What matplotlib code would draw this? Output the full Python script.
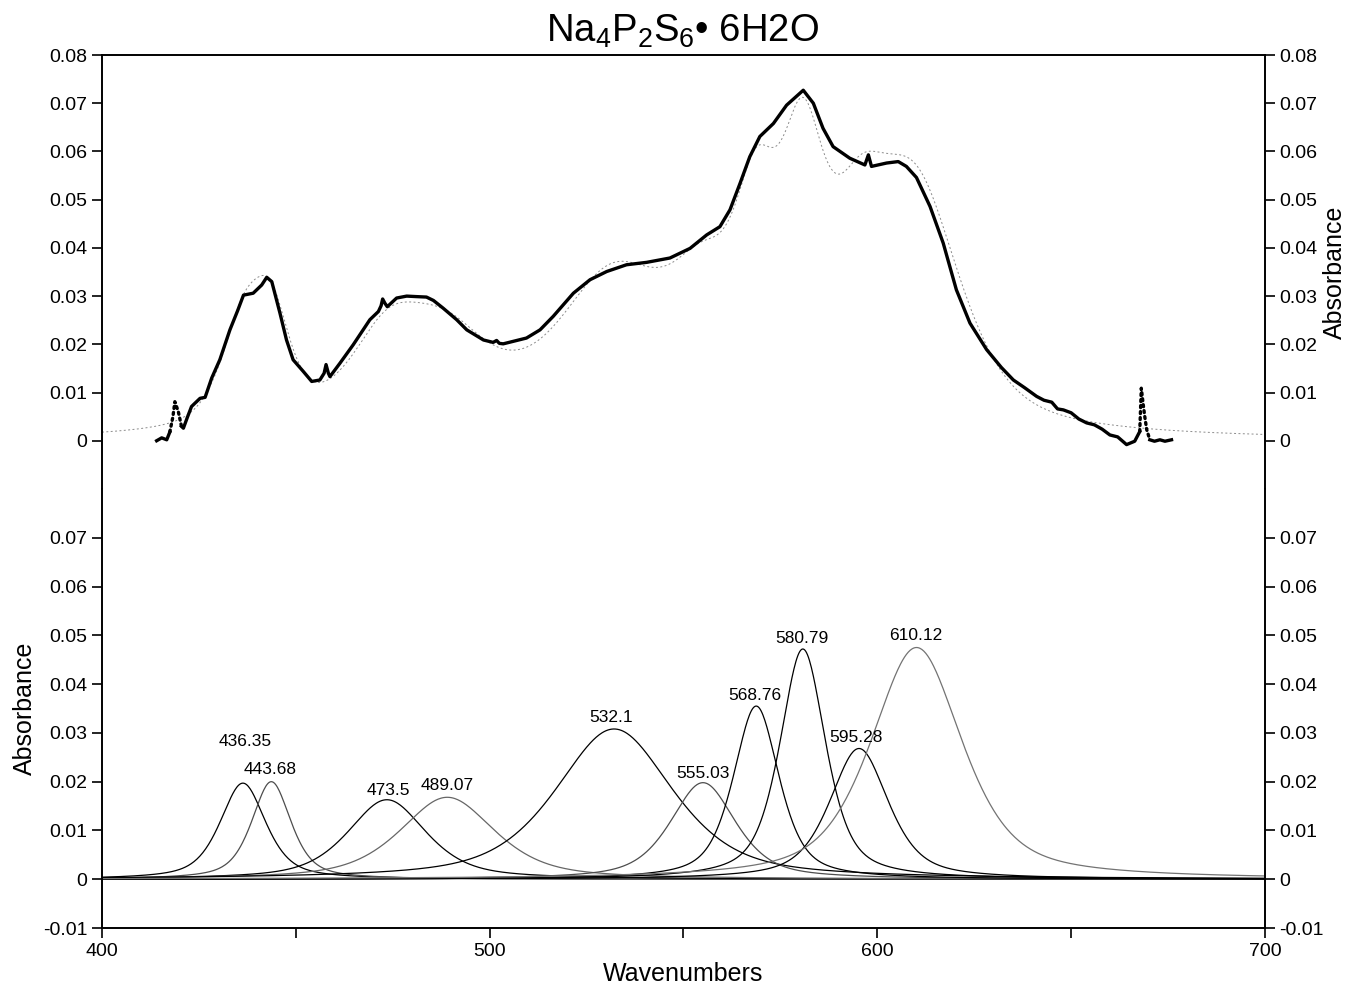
import numpy as np
import matplotlib
matplotlib.use("Agg")
import matplotlib.pyplot as plt
from matplotlib.ticker import FuncFormatter, MultipleLocator

plt.rcParams['font.family'] = ['Liberation Sans', 'DejaVu Sans']
plt.rcParams['mathtext.fontset'] = 'custom'
plt.rcParams['mathtext.rm'] = 'Liberation Sans'
plt.rcParams['mathtext.it'] = 'Liberation Sans'
plt.rcParams['axes.unicode_minus'] = False

meas_x = [414.1, 415.4, 416.7, 417.5, 418.3, 418.8, 419.7, 420.5, 421.0, 422.0,
          423.1, 424.0, 425.3, 426.6, 428.3, 430.4, 433.0, 435.0, 436.5, 439.0,
          441.2, 442.5, 443.8, 445.9, 447.6, 449.3, 451.9, 454.1, 456.2, 457.3,
          457.8, 458.4, 458.8, 461.4, 464.8, 469.1, 471.3, 472.0, 472.4, 473.0,
          473.6, 476.0, 478.6, 481.0, 483.7, 485.5, 488.0, 491.5, 494.1, 498.4,
          500.9, 501.8, 502.5, 503.5, 507.0, 509.5, 513.0, 516.4, 521.6, 525.9,
          530.2, 535.3, 540.5, 546.5, 551.7, 556.0, 559.4, 562.0, 564.6, 567.1,
          569.7, 573.2, 576.6, 580.9, 583.5, 586.0, 588.6, 592.9, 596.8, 597.7,
          598.5, 602.4, 605.4, 607.5, 610.1, 613.6, 617.0, 620.4, 623.9, 628.2,
          632.0, 635.1, 638.0, 641.1, 643.0, 645.0, 646.5, 648.0, 650.0, 652.0,
          654.0, 656.0, 658.0, 660.0, 662.0, 664.3, 666.4, 667.7, 668.1, 668.6,
          669.0, 669.5, 670.3, 671.5, 672.9, 674.2, 675.9]
meas_y = [0.0000, 0.0006, 0.0002, 0.0018, 0.0050, 0.0081, 0.0060, 0.0030, 0.0026, 0.0048,
          0.0071, 0.0078, 0.0088, 0.0090, 0.0130, 0.0168, 0.0230, 0.0270, 0.0302, 0.0306,
          0.0323, 0.0339, 0.0330, 0.0265, 0.0209, 0.0168, 0.0144, 0.0123, 0.0126, 0.0140,
          0.0158, 0.0140, 0.0133, 0.0161, 0.0199, 0.0251, 0.0268, 0.0280, 0.0294, 0.0285,
          0.0278, 0.0296, 0.0300, 0.0299, 0.0298, 0.0291, 0.0275, 0.0251, 0.0230, 0.0209,
          0.0204, 0.0208, 0.0202, 0.0201, 0.0208, 0.0213, 0.0230, 0.0258, 0.0306, 0.0334,
          0.0351, 0.0365, 0.0370, 0.0379, 0.0399, 0.0427, 0.0444, 0.0479, 0.0534, 0.0589,
          0.0631, 0.0658, 0.0696, 0.0727, 0.0700, 0.0648, 0.0610, 0.0586, 0.0572, 0.0593,
          0.0569, 0.0576, 0.0579, 0.0569, 0.0546, 0.0486, 0.0410, 0.0313, 0.0244, 0.0189,
          0.0152, 0.0126, 0.0110, 0.0092, 0.0084, 0.0080, 0.0066, 0.0064, 0.0058, 0.0045,
          0.0037, 0.0033, 0.0024, 0.0012, 0.0008, -0.0008, -0.0001, 0.0019, 0.0109, 0.0075,
          0.0050, 0.0023, 0.0002, -0.0001, 0.0002, -0.0001, 0.0002]

# fitted components
peak_pos = [436.35, 443.68, 473.5, 489.07, 532.1, 555.03, 568.76, 580.79, 595.28, 610.12]
peak_height = [0.0197, 0.0200, 0.0163, 0.0168, 0.0308, 0.0198, 0.0355, 0.0472, 0.0268, 0.0475]
peak_fwhm = [14, 12, 24, 29, 36, 20, 14, 14, 18, 28]
label_x = [436.9, 443.3, 474.0, 489.0, 531.3, 555.0, 568.4, 580.6, 594.5, 610.0]
label_y = [0.0283, 0.0225, 0.0182, 0.0193, 0.0332, 0.0217, 0.0377, 0.0494, 0.0291, 0.0499]
eta = 0.6


def pvoigt(x, c, h, w):
    u = (x - c) / w
    return h * (eta / (1 + 4 * u ** 2) + (1 - eta) * np.exp(-4 * np.log(2) * u ** 2))


xs = np.linspace(400, 700, 1201)
comps = [pvoigt(xs, c, h, w) for c, h, w in zip(peak_pos, peak_height, peak_fwhm)]
fit = np.sum(comps, axis=0)

fig = plt.figure(figsize=(13.49, 9.88), dpi=100)
ax1 = fig.add_axes([0.0756, 0.5051, 0.8621, 0.4392])
ax2 = fig.add_axes([0.0756, 0.0607, 0.8621, 0.4444])

fmt = FuncFormatter(lambda v, p: '0' if abs(v) < 1e-9 else ('%.2f' % v))

# top panel
mx = np.array(meas_x)
my = np.array(meas_y)
dot = ((mx > 417.2) & (mx < 420.8)) | ((mx > 667.5) & (mx < 670.5))
solid_y = np.where(((mx > 417.6) & (mx < 420.4)) | ((mx > 667.8) & (mx < 670.2)), np.nan, my)
dot_y = np.where(dot, my, np.nan)
ax1.plot(xs, fit, color='0.55', lw=0.7, ls=(0, (2, 2.5)))
ax1.plot(mx, solid_y, color='black', lw=2.4)
ax1.plot(mx, dot_y, color='black', lw=2.4, ls=(0, (0.6, 1.2)), dash_capstyle='round')
ax1.set_xlim(400, 700)
ax1.set_ylim(-0.01, 0.08)
ax1.set_yticks(np.arange(0, 0.081, 0.01))
ax1.yaxis.set_major_formatter(fmt)
ax1.spines['bottom'].set_visible(False)
ax1.tick_params(axis='x', bottom=False, labelbottom=False)
ax1.tick_params(axis='y', direction='out', length=7, width=1.2, labelsize=14,
                left=True, right=True, labelleft=True, labelright=True)
ax1.yaxis.set_label_position('right')
ax1.set_ylabel('Absorbance', fontsize=18, labelpad=4)

# bottom panel
line_colors = ['black', '0.3', 'black', '0.4', 'black', '0.3', 'black', 'black', 'black', '0.45']
for comp, col in zip(comps, line_colors):
    ax2.plot(xs, comp, color=col, lw=0.9)
for lx, ly, c in zip(label_x, label_y, peak_pos):
    ax2.text(lx, ly, '%g' % c, ha='center', va='center', fontsize=12.5)
ax2.set_xlim(400, 700)
ax2.set_ylim(-0.01, 0.08)
ax2.set_yticks(np.arange(-0.01, 0.071, 0.01))
ax2.yaxis.set_major_formatter(fmt)
ax2.set_xticks([400, 500, 600, 700])
ax2.xaxis.set_minor_locator(MultipleLocator(50))
ax2.spines['top'].set_visible(False)
ax2.tick_params(axis='y', direction='out', length=7, width=1.2, labelsize=14,
                left=True, right=True, labelleft=True, labelright=True)
ax2.tick_params(axis='x', which='both', direction='out', length=7, width=1.2, labelsize=14)
ax2.set_xlabel('Wavenumbers', fontsize=18, labelpad=2)
ax2.set_ylabel('Absorbance', fontsize=18, labelpad=4)

for ax in (ax1, ax2):
    for s in ax.spines.values():
        s.set_linewidth(1.4)

fig.text(0.506, 0.968, r'Na$_{4}$P$_{2}$S$_{6}$• 6H2O', ha='center', va='center', fontsize=27.5)

fig.savefig('out.png', dpi=100)
